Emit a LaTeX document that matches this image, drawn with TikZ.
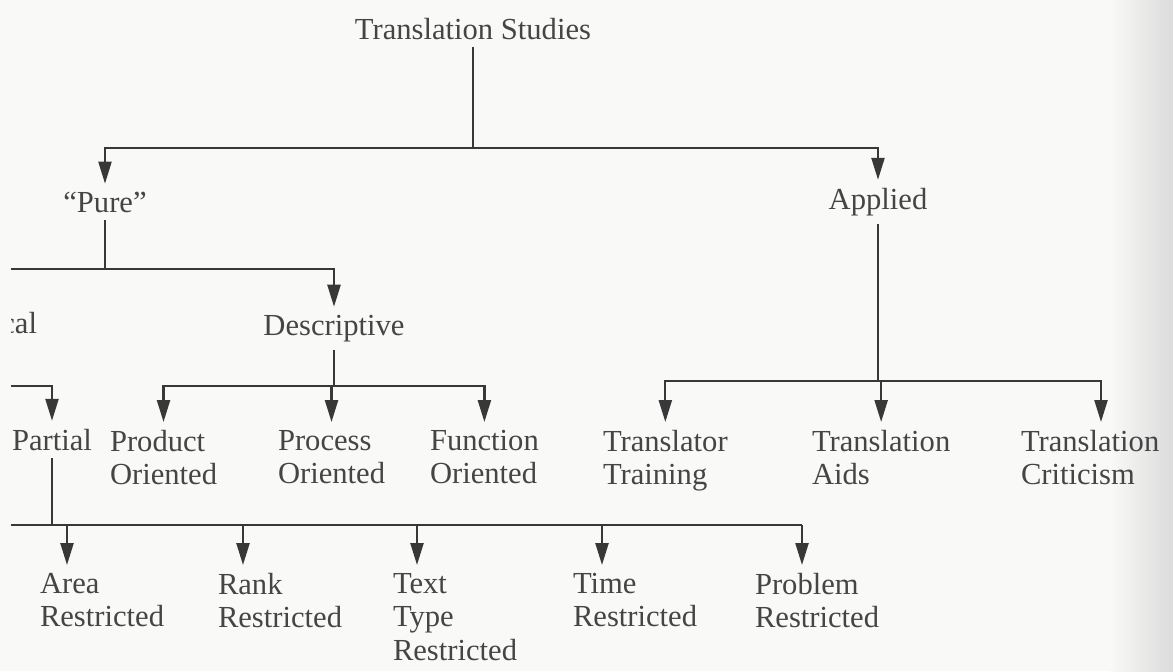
\documentclass[tikz,border=0pt]{standalone}
\usepackage{fontspec}
\setmainfont{Liberation Serif}
\usetikzlibrary{arrows.meta}
\definecolor{ink}{HTML}{383838}
\definecolor{txt}{HTML}{454545}
\definecolor{paper}{HTML}{F9F9F8}

\begin{document}
\begin{tikzpicture}[x=0.5pt, y=-0.5pt,
  link/.style={draw=ink, line width=1.15pt},
  arr/.style={link, -{Triangle[length=11pt, width=6.5pt]}},
  hub/.style={anchor=base, inner sep=0pt, outer sep=4pt, text=txt, font=\fontsize{15.3}{16.75}\selectfont},
  leaf/.style={hub, anchor=north west, align=left, outer xsep=0pt}]

  \useasboundingbox (0,0) rectangle (1173,671);
  \fill[paper] (0,0) rectangle (1173,671);
  \shade[left color=paper, right color=black!14] (1110,0) rectangle (1173,671);
  \clip (11,0) rectangle (1173,671);

  \node (title) [hub] at (473,39) {Translation Studies};
  \node (pure) [hub] at (105,212) {“Pure”};
  \node (applied) [hub] at (878,209) {Applied};
  \node (theo) [hub, anchor=base east, outer xsep=0pt] at (37,333) {Theoretical};
  \node (desc) [hub] at (334,335) {Descriptive};
  \node (partial) [hub] at (52,450) {Partial};

  \node (product) [leaf] at (110,422) {Product\\Oriented};
  \node (process) [leaf] at (278,422) {Process\\Oriented};
  \node (function) [leaf] at (430,422) {Function\\Oriented};
  \node (training) [leaf] at (603,422) {Translator\\Training};
  \node (aids) [leaf] at (812,422) {Translation\\Aids};
  \node (criticism) [leaf] at (1021,422) {Translation\\Criticism};

  \node (area) [leaf] at (40,565) {Area\\Restricted};
  \node (rank) [leaf] at (218,565) {Rank\\Restricted};
  \node (texttype) [leaf] at (393,565) {Text\\Type\\Restricted};
  \node (time) [leaf] at (573,565) {Time\\Restricted};
  \node (problem) [leaf] at (755,565) {Problem\\Restricted};

  \coordinate (top-bar) at (473,148);
  \coordinate (pure-bar) at (105,269);
  \coordinate (desc-bar) at (334,386);
  \coordinate (applied-bar) at (878,381);
  \coordinate (crit-drop) at (1101,381);
  \coordinate (low-left) at (-40,525);
  \coordinate (low-area) at (67,525);
  \coordinate (low-rank) at (243,525);
  \coordinate (low-text) at (417,525);
  \coordinate (low-time) at (602,525);
  \coordinate (low-problem) at (802,525);

  \draw[link] (title) -- (top-bar);
  \draw[arr] (top-bar) -| (pure);
  \draw[arr] (top-bar) -| (applied);

  \draw[link] (pure) -- (pure |- pure-bar);
  \draw[arr] (pure |- pure-bar) -| (theo);
  \draw[arr] (pure |- pure-bar) -| (desc);

  \draw[link] (desc) -- (desc |- desc-bar);
  \draw[arr] (desc |- desc-bar) -| (product);
  \draw[arr] (desc |- desc-bar) -| (process);
  \draw[arr] (desc |- desc-bar) -| (function);

  \draw[link] (theo) -- (theo |- desc-bar);
  \draw[arr] (theo |- desc-bar) -| (partial);

  \draw[link] (applied) -- (applied |- applied-bar);
  \draw[arr] (applied |- applied-bar) -| (training);
  \draw[arr] (applied |- applied-bar) -| (aids);
  \draw[arr] (applied |- applied-bar) -- (crit-drop) -- (crit-drop |- criticism.north);

  \draw[link] (partial) -- (partial |- low-left);
  \draw[link] (low-left) -- (low-problem);
  \draw[arr] (low-area) -- (low-area |- area.north);
  \draw[arr] (low-rank) -- (low-rank |- rank.north);
  \draw[arr] (low-text) -- (low-text |- texttype.north);
  \draw[arr] (low-time) -- (low-time |- time.north);
  \draw[arr] (low-problem) -- (low-problem |- problem.north);

\end{tikzpicture}
\end{document}
